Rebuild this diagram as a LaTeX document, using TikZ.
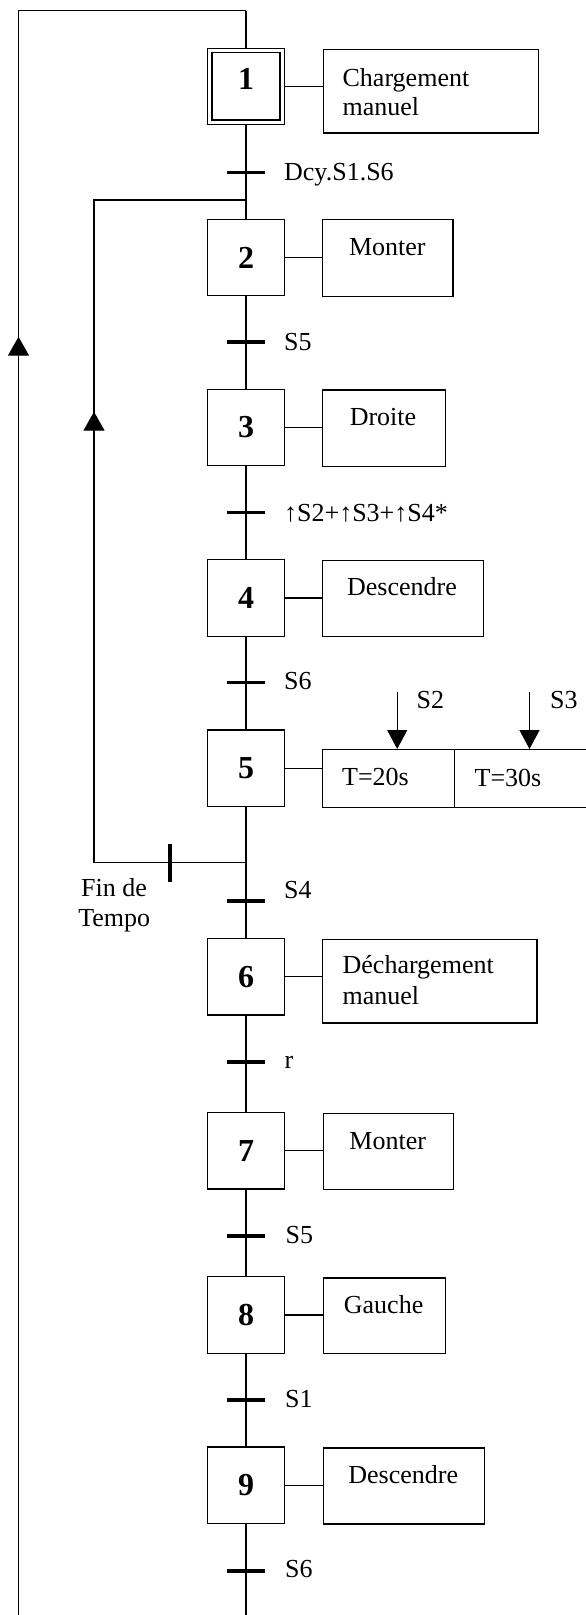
\documentclass[tikz,border=0pt]{standalone}
\usepackage{fontspec}
\setmainfont{Liberation Serif}
\usetikzlibrary{arrows.meta}
\begin{document}
\begin{tikzpicture}[x=1pt,y=-1pt,line width=1.3pt,
  stepbox/.style={draw,rectangle,minimum width=77.4pt,minimum height=76.5pt,inner sep=0pt,font=\fontsize{32}{36}\selectfont\bfseries},
  actbox/.style={draw,rectangle,anchor=north west,inner sep=0pt},
  txt/.style={inner sep=0pt,font=\fontsize{26}{30}\selectfont},
  tbar/.style={fill=black,draw=none,rectangle,minimum width=37.4pt,minimum height=3.6pt,inner sep=0pt},
  vbar/.style={fill=black,draw=none,rectangle,minimum width=3.6pt,minimum height=37.7pt,inner sep=0pt},
  uparrow/.style={-{Triangle[length=19pt,width=21pt]}},
  downarrow/.style={-{Triangle[length=19pt,width=20pt]}}]
\useasboundingbox (0,0) rectangle (586,1615);
\clip (0,0) rectangle (586,1615);

% steps
\node[stepbox,text depth=14pt] (s1) at (246,86.4) {1};
\draw ([xshift=5.3pt,yshift=-5.3pt]s1.north west) rectangle ([xshift=-5.3pt,yshift=5.3pt]s1.south east);
\node[stepbox] (s2) at (246,257.4) {2};
\node[stepbox] (s3) at (246,427.5) {3};
\node[stepbox] (s4) at (246,598) {4};
\node[stepbox] (s5) at (246,768.2) {5};
\node[stepbox] (s6) at (246,976.8) {6};
\node[stepbox] (s7) at (246,1150.8) {7};
\node[stepbox] (s8) at (246,1315) {8};
\node[stepbox] (s9) at (246,1485.3) {9};

% action boxes
\node[actbox,minimum width=215pt,minimum height=83.3pt] (a1) at (322.5,49) {};
\node[actbox,minimum width=130.2pt,minimum height=76.7pt] (a2) at (322,219) {};
\node[actbox,minimum width=123.2pt,minimum height=76.4pt] (a3) at (321.5,389.3) {};
\node[actbox,minimum width=161.3pt,minimum height=76pt] (a4) at (321.5,560) {};
\node[actbox,minimum width=132.5pt,minimum height=57.5pt] (a5a) at (321.5,749) {};
\node[actbox,minimum width=150pt,minimum height=57.5pt] (a5b) at (454,749) {};
\node[actbox,minimum width=214.7pt,minimum height=83.3pt] (a6) at (321.5,939) {};
\node[actbox,minimum width=130.5pt,minimum height=76.3pt] (a7) at (322.5,1112.7) {};
\node[actbox,minimum width=122.2pt,minimum height=75.4pt] (a8) at (322.5,1277.3) {};
\node[actbox,minimum width=161.5pt,minimum height=76pt] (a9) at (322.5,1447.3) {};

% action texts
\node[txt,anchor=base west] (a1t1) at (342,86.7) {Chargement};
\node[txt,anchor=base west] (a1t2) at (342,115) {manuel};
\node[txt,anchor=base] (a2t) at (387.3,255) {Monter};
\node[txt,anchor=base] (a3t) at (383,425) {Droite};
\node[txt,anchor=base] (a4t) at (402,595.7) {Descendre};
\node[txt,anchor=base west] (a5at) at (341.5,785.5) {T=20s};
\node[txt,anchor=base west] (a5bt) at (474,786) {T=30s};
\node[txt,anchor=base west] (a6t1) at (342,973.3) {Déchargement};
\node[txt,anchor=base west] (a6t2) at (342,1004.3) {manuel};
\node[txt,anchor=base] (a7t) at (387.7,1149.3) {Monter};
\node[txt,anchor=base] (a8t) at (383.6,1313.3) {Gauche};
\node[txt,anchor=base] (a9t) at (403.2,1483.3) {Descendre};

% step-action links
\foreach \i/\a in {1/a1,2/a2,3/a3,4/a4,5/a5a,6/a6,7/a7,8/a8,9/a9}
  \draw (s\i.east) -- (s\i.east -| \a.west);

% main line
\coordinate (mtop) at (246,10.7);
\coordinate (mbot) at (246,1620);
\draw (mtop) -- (s1.north);
\draw (s1.south) -- (s2.north);
\draw (s2.south) -- (s3.north);
\draw (s3.south) -- (s4.north);
\draw (s4.south) -- (s5.north);
\draw (s5.south) -- (s6.north);
\draw (s6.south) -- (s7.north);
\draw (s7.south) -- (s8.north);
\draw (s8.south) -- (s9.north);
\draw (s9.south) -- (mbot);

% outer loop
\coordinate (otop) at (18.5,10.7);
\coordinate (obot) at (18.5,1620);
\coordinate (oarr) at (18.5,380);
\coordinate (otip) at (18.5,336.7);
\draw (obot) -- (otop) -- (mtop);
\draw[uparrow] (oarr) -- (otip);

% inner loop
\coordinate (br) at (246,862.7);
\coordinate (ibl) at (94,862.7);
\coordinate (itl) at (94,200);
\coordinate (itr) at (246,200);
\coordinate (iarr) at (94,455);
\coordinate (itip) at (94,411.7);
\draw (br) -- (ibl) -- (itl) -- (itr);
\draw[uparrow] (iarr) -- (itip);
\node[vbar] (fin) at (170,862.85) {};
\node[txt,anchor=base] (fin1) at (114,896.7) {Fin de};
\node[txt,anchor=base] (fin2) at (114.2,926) {Tempo};

% transitions
\node[tbar] (t1) at (246,172.3) {};
\node[tbar] (t2) at (246,341.7) {};
\node[tbar] (t3) at (246,512.3) {};
\node[tbar] (t4) at (246,682.3) {};
\node[tbar] (t5) at (246,900.7) {};
\node[tbar] (t6) at (246,1061.7) {};
\node[tbar] (t7) at (246,1236) {};
\node[tbar] (t8) at (246,1400) {};
\node[tbar] (t9) at (246,1570.7) {};
\node[txt,anchor=base west] (l1) at (283.5,180) {Dcy.S1.S6};
\node[txt,anchor=base west] (l2) at (283.5,350) {S5};
\node[txt,anchor=base west] (l3) at (283.5,521.7) {↑S2+↑S3+↑S4*};
\node[txt,anchor=base west] (l4) at (283.5,689.3) {S6};
\node[txt,anchor=base west] (l5) at (283.5,898.3) {S4};
\node[txt,anchor=base west] (l6) at (284,1068.3) {r};
\node[txt,anchor=base west] (l7) at (285,1243.3) {S5};
\node[txt,anchor=base west] (l8) at (284.5,1407.3) {S1};
\node[txt,anchor=base west] (l9) at (284.5,1577.3) {S6};

% timer inputs
\coordinate (s2a) at (397.2,692);
\coordinate (s3a) at (529.5,692);
\draw[downarrow] (s2a) -- (s2a |- a5a.north);
\draw[downarrow] (s3a) -- (s3a |- a5b.north);
\node[txt,anchor=base west] (ls2) at (416,708.3) {S2};
\node[txt,anchor=base west] (ls3) at (549.5,708.3) {S3};
\end{tikzpicture}
\end{document}
